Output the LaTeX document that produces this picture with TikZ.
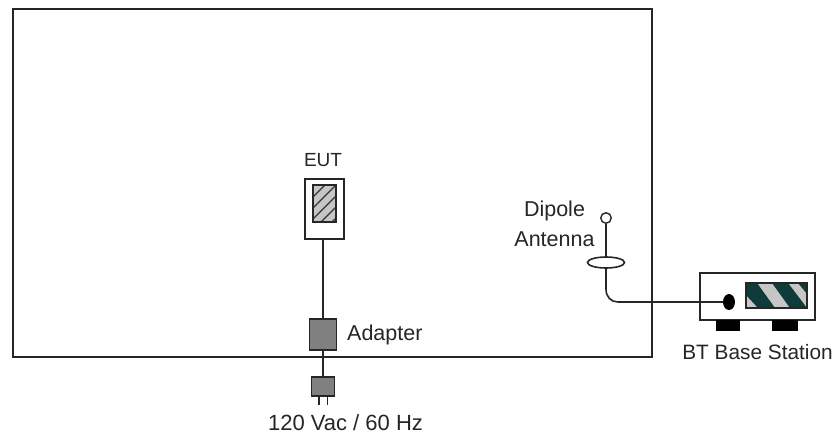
\documentclass[tikz,border=0pt]{standalone}
\usepackage{fontspec}
\setmainfont{Liberation Sans}
\usetikzlibrary{shapes.geometric}
\definecolor{dkgreen}{HTML}{0F3C3A}
\definecolor{midgray}{HTML}{808080}
\definecolor{ltgray}{HTML}{C6C6C6}
\tikzset{
  wire/.style={draw=black!85,line width=1.6pt},
  box/.style={draw=black!85,line width=1.6pt,inner sep=0pt,outer sep=0pt,rectangle},
  lbl/.style={inner sep=0pt,font=\fontsize{21.5}{24}\selectfont,text=black!85,align=center}
}
\begin{document}
\begin{tikzpicture}[x=1pt,y=-1pt]
\useasboundingbox (0,0) rectangle (836,437);
\fill[white] (0,0) rectangle (836,437);
% room
\node[box,minimum width=639pt,minimum height=348pt,anchor=north west] (room) at (13,9) {};
% EUT
\node[box,fill=white,minimum width=39pt,minimum height=60pt,anchor=north west] (eut) at (305,179) {};
\node[box,fill=ltgray,minimum width=23pt,minimum height=37pt,anchor=north west] (screen) at (313,185) {};
\begin{scope}
\clip (313,185) rectangle (336,222);
\foreach \d in {0,11,...,66}
  \draw[black!80,line width=1.2pt] (305,194+\d) -- (345,154+\d);
\end{scope}
\draw[box] (313,185) rectangle (336,222);
\node[lbl,font=\fontsize{19}{22}\selectfont] (eutl) at (323,160.5) {EUT};
% adapter
\node[box,fill=midgray,minimum width=27pt,minimum height=31pt,anchor=north west] (adapter) at (309.5,319) {};
\node[box,fill=midgray,minimum width=23pt,minimum height=19pt,anchor=north west] (plug) at (311.5,377) {};
\draw[wire] (adapter.north |- eut.south) -- (adapter.north);
\draw[wire] (adapter.south) -- (adapter.south |- plug.north);
\coordinate (p1) at (319,405);
\coordinate (p2) at (327.5,405);
\draw[black!85,line width=1.2pt] (319,396) -- (p1) (327.5,396) -- (p2);
\node[lbl,anchor=west] (adl) at (347,335) {Adapter};
\node[lbl,font=\fontsize{22}{24}\selectfont] (vac) at (345.5,423) {120 Vac / 60 Hz};
% antenna
\node[lbl] (dip) at (554.5,211) {Dipole};
\node[lbl] (ant) at (554.5,239) {Antenna};
\node[draw=black!85,line width=1.4pt,fill=white,circle,minimum size=10.5pt,inner sep=0pt] (tip) at (606,218) {};
\node[draw=black!85,line width=1.6pt,ellipse,fill=white,minimum width=37pt,minimum height=11pt,inner sep=0pt] (ring) at (606,262.5) {};
\draw[wire] (tip.south) -- (ring.north);
% base station
\node[box,minimum width=115pt,minimum height=47pt,anchor=north west] (base) at (700,273) {};
\node[fill=black,inner sep=0pt,minimum width=24pt,minimum height=11pt,anchor=north west] (foot1) at (716,320) {};
\node[fill=black,inner sep=0pt,minimum width=26pt,minimum height=11pt,anchor=north west] (foot2) at (772,320) {};
\node[fill=black,ellipse,inner sep=0pt,minimum width=12pt,minimum height=16pt] (jack) at (729,302) {};
\draw[wire] (ring.south) -- (606,289) .. controls (606,297) and (611,302) .. (618,302) -- (jack.west);
\node[box,fill=ltgray,minimum width=61pt,minimum height=25pt,anchor=north west] (panel) at (746,283) {};
\begin{scope}
\clip (746,283) rectangle (807,308);
\fill[dkgreen] (746,283) -- (757,283) -- (775,308) -- (758,308) -- (746,295) -- cycle;
\fill[dkgreen] (772,283) -- (788,283) -- (807,308) -- (790,308) -- cycle;
\fill[dkgreen] (798,283) -- (807,283) -- (807,294) -- cycle;
\end{scope}
\draw[box] (746,283) rectangle (807,308);
\node[lbl,font=\fontsize{20.8}{24}\selectfont] (btl) at (757.5,352) {BT Base Station};
\end{tikzpicture}
\end{document}
